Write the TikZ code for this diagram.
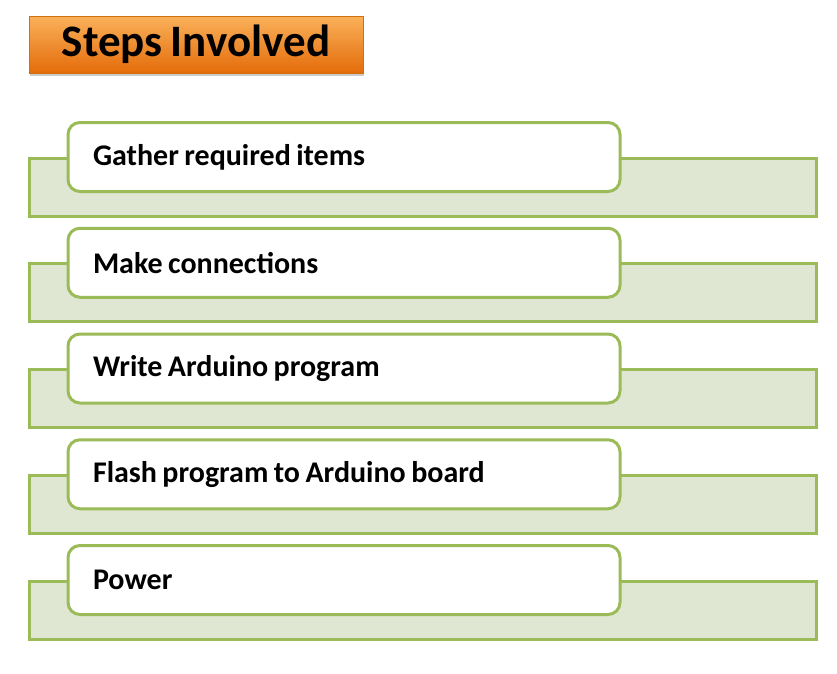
\documentclass[tikz,border=0pt]{standalone}
\usepackage{fontspec}
\setmainfont{Carlito}[WordSpace=0.8]
\usepackage{xcolor}
\usepackage{tikz}
\usetikzlibrary{positioning, shadows}
\definecolor{titleTop}{HTML}{FAB15A}
\definecolor{titleBottom}{HTML}{E46C0A}
\definecolor{titleBorder}{HTML}{D0700F}
\definecolor{barFill}{HTML}{DFE7D3}
\definecolor{lineGreen}{HTML}{9BBB59}

\begin{document}
\begin{tikzpicture}[
    x=1pt, y=-1pt,
    node distance=44.75pt,
    title/.style={rectangle, draw=titleBorder, line width=1pt, top color=titleTop, bottom color=titleBottom,
        minimum width=334pt, minimum height=57pt, inner sep=0pt,
        font=\fontsize{45}{50}\selectfont\bfseries, text=black,
        drop shadow={shadow xshift=1pt, shadow yshift=-3pt, fill=black!35, opacity=.6}},
    bar/.style={rectangle, draw=lineGreen, fill=barFill, line width=3pt, minimum width=787pt, minimum height=58pt, inner sep=0pt},
    stepbox/.style={rectangle, rounded corners=12pt, draw=lineGreen, fill=white, line width=3pt,
        minimum height=69pt, inner xsep=25pt, inner ysep=0pt,
        execute at begin node={\hbox to 502pt\bgroup}, execute at end node={\hfil\egroup},
        font=\fontsize{30}{32}\selectfont\bfseries, anchor=west}
]
\useasboundingbox (0,0) rectangle (837,673);

\node[title] (Steps) at (196,44.5) {Steps Involved};

\node[bar] (bar1) at (422.5,187) {};
\node[bar, below=of bar1] (bar2) {};
\node[bar, below=of bar2] (bar3) {};
\node[bar, below=of bar3] (bar4) {};
\node[bar, below=of bar4] (bar5) {};

\node[stepbox] (Gather) at ([xshift=39pt, yshift=-0.5pt]bar1.north west) {Gather required items};
\node[stepbox] (Connect) at ([xshift=39pt, yshift=-0.5pt]bar2.north west) {Make connections};
\node[stepbox] (Write) at ([xshift=39pt, yshift=-0.5pt]bar3.north west) {Write Arduino program};
\node[stepbox] (Flash) at ([xshift=39pt, yshift=-0.5pt]bar4.north west) {Flash program to Arduino board};
\node[stepbox] (Power) at ([xshift=39pt, yshift=-0.5pt]bar5.north west) {Power};

\end{tikzpicture}
\end{document}
